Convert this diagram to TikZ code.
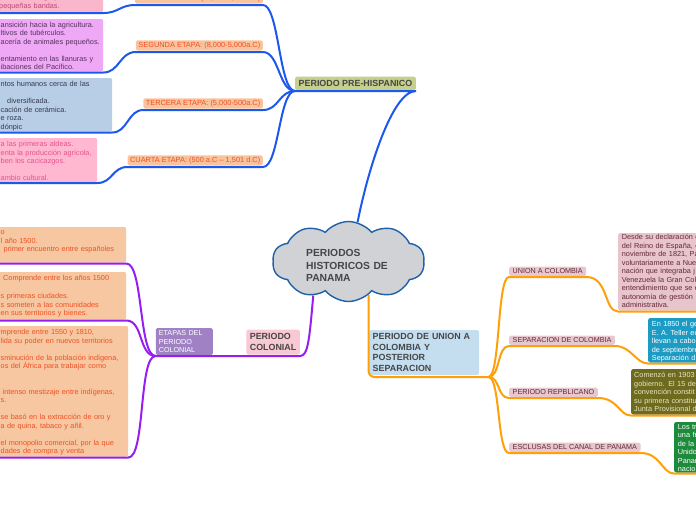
\documentclass[tikz,border=0pt]{standalone}
\usepackage{fontspec}
\setmainfont{Liberation Sans}
\usetikzlibrary{shapes.symbols}

\definecolor{azulLinea}{RGB}{28,88,235}
\definecolor{moradoLinea}{RGB}{150,30,240}
\definecolor{naranjaLinea}{RGB}{255,160,10}
\definecolor{preVerde}{RGB}{196,208,140}
\definecolor{colRosa}{RGB}{248,200,212}
\definecolor{uniAzul}{RGB}{196,222,240}
\definecolor{etpMorado}{RGB}{160,130,196}
\definecolor{nubeGris}{RGB}{208,210,213}
\definecolor{nubeBorde}{RGB}{30,96,170}
\definecolor{hubTexto}{RGB}{70,70,70}
\definecolor{etapaFondo}{RGB}{248,196,158}
\definecolor{etapaTexto}{RGB}{240,80,36}
\definecolor{ramaFondo}{RGB}{232,200,208}
\definecolor{ramaTexto}{RGB}{100,40,56}
\definecolor{rosaA}{RGB}{250,182,202}
\definecolor{rosaAtxt}{RGB}{190,70,115}
\definecolor{violeta}{RGB}{238,168,245}
\definecolor{violetaTxt}{RGB}{85,50,95}
\definecolor{celeste}{RGB}{184,205,230}
\definecolor{celesteTxt}{RGB}{50,58,75}
\definecolor{rosaB}{RGB}{255,184,208}
\definecolor{rosaBtxt}{RGB}{228,82,142}
\definecolor{durazno}{RGB}{246,199,160}
\definecolor{malva}{RGB}{232,196,204}
\definecolor{turquesa}{RGB}{28,156,196}
\definecolor{oliva}{RGB}{110,106,30}
\definecolor{olivaTxt}{RGB}{232,230,196}
\definecolor{verde}{RGB}{30,138,60}

\begin{document}
\begin{tikzpicture}[x=1pt, y=-1pt,
  hub/.style={font=\bfseries\fontsize{8.9}{10.5}\selectfont, text=hubTexto, inner xsep=3.5pt, inner ysep=3.5pt, rounded corners=1.5pt},
  etapa/.style={fill=etapaFondo, text=etapaTexto, font=\fontsize{7.4}{8.8}\selectfont, inner xsep=2.5pt, inner ysep=1.6pt, text height=5.5pt, text depth=1.5pt, outer ysep=1.5pt, rounded corners=1.5pt, anchor=south east},
  rama/.style={fill=ramaFondo, text=ramaTexto, font=\fontsize{7.2}{8.6}\selectfont, inner xsep=3.5pt, inner ysep=1.8pt, text height=5.3pt, text depth=0.3pt, outer ysep=1.2pt, rounded corners=1.5pt, anchor=south west},
  caja/.style={inner sep=0pt, outer ysep=1pt, rounded corners=2pt, anchor=north west},
  cajatxt/.style={font=\fontsize{7.3}{8.5}\selectfont, text width=220pt, align=left, inner sep=0pt, anchor=base west},
  azul/.style={draw=azulLinea, line width=2pt},
  morado/.style={draw=moradoLinea, line width=2pt},
  naranja/.style={draw=naranjaLinea, line width=2pt}]

\useasboundingbox (0,0) rectangle (696,520);
\clip (0,0) rectangle (696,520);

\node[cloud, cloud puffs=10, cloud puff arc=100, cloud ignores aspect, draw=nubeBorde, fill=nubeGris, line width=1.4pt, minimum width=152pt, minimum height=80pt, inner sep=0pt] (hist) at (348.5,261.5) {};
\node[hub, font=\bfseries\fontsize{10.3}{12.5}\selectfont, text width=100pt, align=left, inner sep=0pt, anchor=base west] (histtxt) at (306,256.7) {PERIODOS\\HISTORICOS DE\\PANAMA};

\node[hub, fill=preVerde, outer ysep=1pt, anchor=south west] (pre) at (295,91) {PERIODO PRE-HISPANICO};
\node[etapa] (pri) at (263,5) {PRIMERA ETAPA: (11,000-8,000a.C)};
\node[etapa] (seg) at (263,52) {SEGUNDA ETAPA: (8,000-5,000a.C)};
\node[etapa] (ter) at (263,110) {TERCERA ETAPA: (5,000-500a.C)};
\node[etapa] (cua) at (263,167) {CUARTA ETAPA: (500 a.C -- 1,501 d.C)};

\node[caja, fill=rosaA, minimum width=106pt, minimum height=32pt] (b1) at (-3,-21) {};
\node[caja, fill=violeta, minimum width=106pt, minimum height=52.5pt] (b2) at (-3,18) {};
\node[caja, fill=celeste, minimum width=115pt, minimum height=53.5pt] (b3) at (-3,77) {};
\node[caja, fill=rosaB, minimum width=100pt, minimum height=44pt] (b4) at (-3,137) {};
\node[cajatxt, text=rosaAtxt] (b1t) at (-1,-0.5) {presencia de grupos humanos\\pequeñas bandas.};
\node[cajatxt, text=violetaTxt] (b2t) at (0.5,27) {ansición hacia la agricultura.\\ltivos de tubérculos.\\acería de animales pequeños.\\[8.5pt]entamiento en las llanuras y\\ibaciones del Pacífico.};
\node[cajatxt, text=celesteTxt] (b3t) at (0.5,86.5) {ntos humanos cerca de las\\[8.5pt]\hspace*{6.5pt}diversificada.\\cación de cerámica.\\e roza.\\dónpic};
\node[cajatxt, text=rosaBtxt] (b4t) at (0.5,146.5) {a las primeras aldeas.\\enta la producción agrícola,\\ben los cacicazgos.\\[8.5pt]ambio cultural.};

\node[hub, fill=colRosa, align=left, font=\bfseries\fontsize{8.9}{11.5}\selectfont, outer ysep=1.5pt, anchor=south east] (col) at (300,356) {PERIODO\\COLONIAL};
\node[fill=etpMorado, text=white, font=\fontsize{7.2}{8.7}\selectfont, text width=51pt, align=left, inner xsep=3pt, inner ysep=2.2pt, rounded corners=1.5pt, outer ysep=1pt, anchor=south east] (etp) at (213,356) {ETAPAS DEL\\PERIODO\\COLONIAL};

\node[caja, fill=durazno, minimum width=129pt, minimum height=35.5pt] (b5) at (-3,226) {};
\node[caja, fill=durazno, minimum width=129pt, minimum height=47.5pt] (b6) at (-3,271) {};
\node[caja, fill=durazno, minimum width=131pt, minimum height=130.5pt] (b7) at (-3,325) {};
\node[cajatxt, text=etapaTexto] (b5t) at (0.5,234.5) {o\\l año 1500.\\\hspace*{3pt}primer encuentro entre españoles};
\node[cajatxt, text=etapaTexto] (b6t) at (0.5,280) {\hspace*{2.5pt}Comprende entre los años 1500\\[10pt]s primeras ciudades.\\s someten a las comunidades\\en sus territorios y bienes.};
\node[cajatxt, text=etapaTexto] (b7t) at (0.5,334.8) {mprende entre 1550 y 1810,\\lida su poder en nuevos territorios\\[8.5pt]sminución de la población indígena,\\os del África para trabajar como\\[17pt]\hspace*{2pt}intenso mestizaje entre indígenas,\\s.\\[8.5pt]se basó en la extracción de oro y\\a de quina, tabaco y añil.\\[8.5pt]el monopolio comercial, por la que\\dades de compra y venta};

\node[hub, fill=uniAzul, text width=103pt, align=left, outer ysep=2pt, anchor=south west] (uni) at (369,377) {PERIODO DE UNION A\\COLOMBIA Y\\POSTERIOR\\SEPARACION};
\coordinate (ufan) at ([xshift=9pt]uni.south east);
\node[rama] (ucol) at (509,277) {UNION A COLOMBIA};
\node[rama] (scol) at (509,346) {SEPARACION DE COLOMBIA};
\node[rama] (rep) at (509,398) {PERIODO REPBLICANO};
\node[rama] (esc) at (509,453) {ESCLUSAS DEL CANAL DE PANAMA};

\node[caja, fill=malva, minimum width=90pt, minimum height=77.5pt] (r1) at (618,232) {};
\node[caja, fill=turquesa, minimum width=60pt, minimum height=44.5pt] (r2) at (648,317) {};
\node[caja, fill=oliva, minimum width=80pt, minimum height=45.5pt] (r3) at (631,368) {};
\node[caja, fill=verde, minimum width=40pt, minimum height=50.5pt] (r4) at (674,421) {};
\node[cajatxt, text=ramaTexto] (r1t) at (621.7,239.8) {Desde su declaración d\\del Reino de España, e\\noviembre de 1821, Pa\\voluntariamente a Nue\\nación que integraba j\\Venezuela la Gran Col\\entendimiento que se e\\autonomía de gestión\\administrativa.};
\node[cajatxt, text=white] (r2t) at (651.7,326.5) {En 1850 el ge\\E. A. Teller ec\\llevan a cabo\\de septiembre\\Separación d};
\node[cajatxt, text=olivaTxt] (r3t) at (634,377.5) {Comenzó en 1903\\gobierno. El 15 de\\convención constit\\su primera constitu\\Junta Provisional d};
\node[cajatxt, text=white] (r4t) at (677.7,429.2) {Los tr\\una fr\\de la\\Unido\\Panam\\nacio};

\draw[azul] (hist.77) .. controls +(10,-51) and +(-24,0) .. (pre.south east) -- (pre.south west);
\draw[azul] (pre.south west) .. controls +(-16,0) and +(16,0) .. (pri.south east) -- (pri.south west) .. controls +(-15,0) and +(15,0) .. (b1.south east) -- (b1.south west);
\draw[azul] (pre.south west) .. controls +(-16,0) and +(16,0) .. (seg.south east) -- (seg.south west) .. controls +(-16,0) and +(16,0) .. (b2.south east) -- (b2.south west);
\draw[azul] (pre.south west) .. controls +(-16,0) and +(16,0) .. (ter.south east) -- (ter.south west) .. controls +(-15,0) and +(15,0) .. (b3.south east) -- (b3.south west);
\draw[azul] (pre.south west) .. controls +(-16,0) and +(16,0) .. (cua.south east) -- (cua.south west) .. controls +(-15,0) and +(15,0) .. (b4.south east) -- (b4.south west);

\draw[morado] (hist.224) .. controls +(-4,45) and +(8,0) .. (col.south east) -- (col.south west) -- (etp.south east) -- (etp.south west);
\draw[morado] (etp.south west) .. controls +(-17,0) and +(17,0) .. (b5.south east) -- (b5.south west);
\draw[morado] (etp.south west) .. controls +(-17,0) and +(17,0) .. (b6.south east) -- (b6.south west);
\draw[morado] (etp.south west) .. controls +(-17,0) and +(17,0) .. (b7.south east) -- (b7.south west);

\draw[naranja, rounded corners=6pt] (hist.-59) |- (ufan);
\draw[naranja] (ufan) .. controls +(12,0) and +(-12,0) .. (ucol.south west) -- (ucol.south east) .. controls +(22,0) and +(-14,0) .. (r1.south west) -- (r1.south east);
\draw[naranja] (ufan) .. controls +(12,0) and +(-12,0) .. (scol.south west) -- (scol.south east) .. controls +(16,0) and +(-12,0) .. (r2.south west) -- (r2.south east);
\draw[naranja] (ufan) .. controls +(12,0) and +(-12,0) .. (rep.south west) -- (rep.south east) .. controls +(20,0) and +(-12,0) .. (r3.south west) -- (r3.south east);
\draw[naranja] (ufan) .. controls +(12,0) and +(-12,0) .. (esc.south west) -- (esc.south east) .. controls +(20,0) and +(-12,0) .. (r4.south west) -- (r4.south east);

\end{tikzpicture}
\end{document}
